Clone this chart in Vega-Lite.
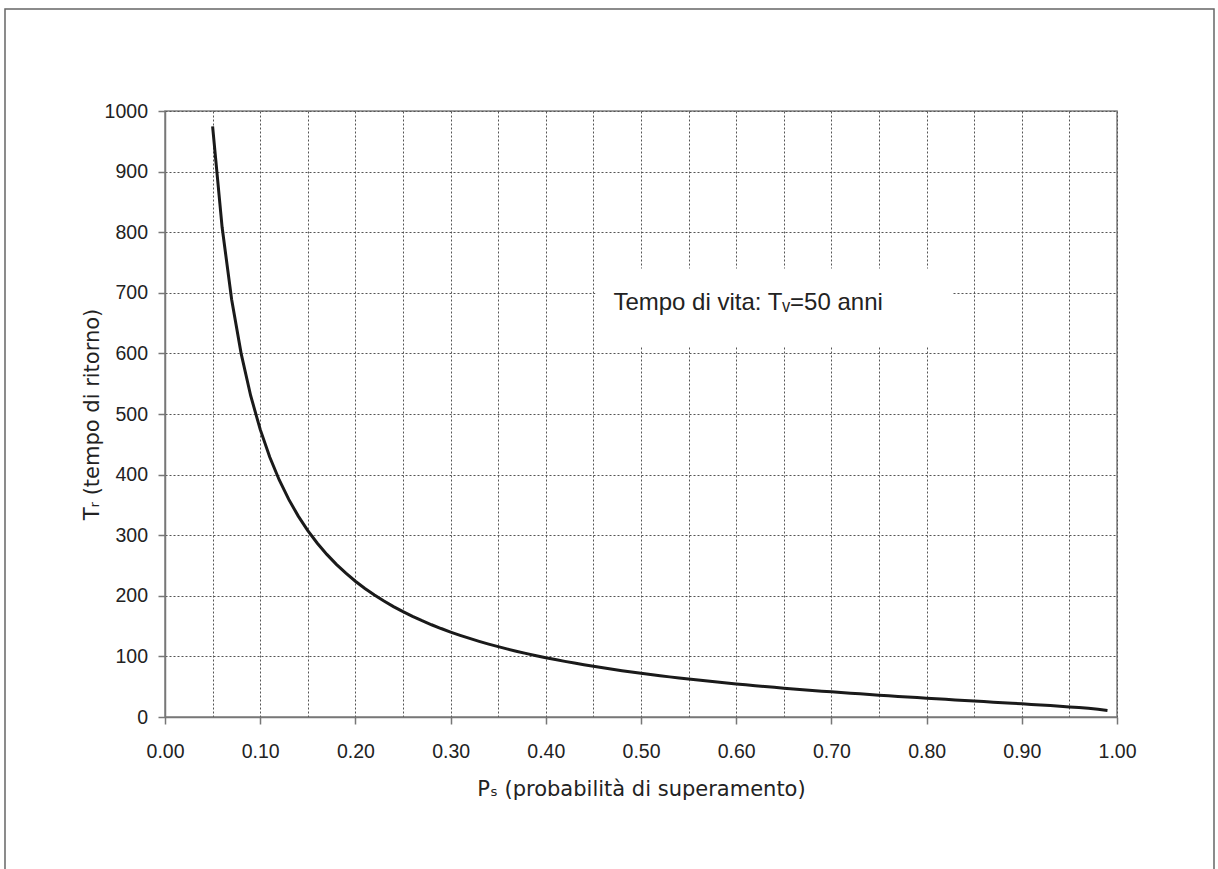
{
  "$schema": "https://vega.github.io/schema/vega-lite/v6.json",
  "width": 952,
  "height": 606,
  "autosize": "none",
  "padding": {"left": 165, "top": 111, "right": 101, "bottom": 152},
  "background": "white",
  "config": {
    "view": {"stroke": "#808080", "strokeWidth": 1.5},
    "axis": {
      "labelFont": "Liberation Sans",
      "labelFontSize": 19.5,
      "labelColor": "#222",
      "titleFont": "DejaVu Sans",
      "titleFontSize": 21,
      "titleFontWeight": "normal",
      "titleColor": "#222",
      "domainColor": "#777",
      "domainWidth": 1.5,
      "tickColor": "#777",
      "tickWidth": 1.5,
      "tickSize": 7,
      "grid": true,
      "gridColor": "#555",
      "gridDash": [2, 2],
      "gridWidth": 1,
      "labelOverlap": false,
      "labelFlush": false
    }
  },
  "datasets": {
    "curve": [
      {"Ps": 0.05, "Tr": 974.79}, {"Ps": 0.06, "Tr": 808.08}, {"Ps": 0.07, "Tr": 688.98},
      {"Ps": 0.08, "Tr": 599.65}, {"Ps": 0.09, "Tr": 530.16}, {"Ps": 0.10, "Tr": 474.56},
      {"Ps": 0.11, "Tr": 429.06}, {"Ps": 0.12, "Tr": 391.14}, {"Ps": 0.13, "Tr": 359.04},
      {"Ps": 0.14, "Tr": 331.52}, {"Ps": 0.15, "Tr": 307.65}, {"Ps": 0.16, "Tr": 286.78},
      {"Ps": 0.17, "Tr": 268.34}, {"Ps": 0.18, "Tr": 251.95}, {"Ps": 0.19, "Tr": 237.28},
      {"Ps": 0.20, "Tr": 224.07}, {"Ps": 0.21, "Tr": 212.12}, {"Ps": 0.22, "Tr": 201.24},
      {"Ps": 0.23, "Tr": 191.30}, {"Ps": 0.24, "Tr": 182.19}, {"Ps": 0.25, "Tr": 173.80},
      {"Ps": 0.26, "Tr": 166.05}, {"Ps": 0.27, "Tr": 158.88}, {"Ps": 0.28, "Tr": 152.20},
      {"Ps": 0.29, "Tr": 145.99}, {"Ps": 0.30, "Tr": 140.18}, {"Ps": 0.31, "Tr": 134.75},
      {"Ps": 0.32, "Tr": 129.65}, {"Ps": 0.33, "Tr": 124.85}, {"Ps": 0.34, "Tr": 120.33},
      {"Ps": 0.35, "Tr": 116.07}, {"Ps": 0.36, "Tr": 112.03}, {"Ps": 0.37, "Tr": 108.22},
      {"Ps": 0.38, "Tr": 104.59}, {"Ps": 0.39, "Tr": 101.15}, {"Ps": 0.40, "Tr": 97.88},
      {"Ps": 0.41, "Tr": 94.76}, {"Ps": 0.42, "Tr": 91.79}, {"Ps": 0.43, "Tr": 88.95},
      {"Ps": 0.44, "Tr": 86.24}, {"Ps": 0.45, "Tr": 83.64}, {"Ps": 0.46, "Tr": 81.14},
      {"Ps": 0.47, "Tr": 78.76}, {"Ps": 0.48, "Tr": 76.46}, {"Ps": 0.49, "Tr": 74.26},
      {"Ps": 0.50, "Tr": 72.13}, {"Ps": 0.51, "Tr": 70.09}, {"Ps": 0.52, "Tr": 68.12},
      {"Ps": 0.53, "Tr": 66.22}, {"Ps": 0.54, "Tr": 64.39}, {"Ps": 0.55, "Tr": 62.62},
      {"Ps": 0.56, "Tr": 60.90}, {"Ps": 0.57, "Tr": 59.24}, {"Ps": 0.58, "Tr": 57.64},
      {"Ps": 0.59, "Tr": 56.08}, {"Ps": 0.60, "Tr": 54.57}, {"Ps": 0.61, "Tr": 53.10},
      {"Ps": 0.62, "Tr": 51.68}, {"Ps": 0.63, "Tr": 50.29}, {"Ps": 0.64, "Tr": 48.94},
      {"Ps": 0.65, "Tr": 47.63}, {"Ps": 0.66, "Tr": 46.35}, {"Ps": 0.67, "Tr": 45.10},
      {"Ps": 0.68, "Tr": 43.88}, {"Ps": 0.69, "Tr": 42.69}, {"Ps": 0.70, "Tr": 41.53},
      {"Ps": 0.71, "Tr": 40.39}, {"Ps": 0.72, "Tr": 39.28}, {"Ps": 0.73, "Tr": 38.19},
      {"Ps": 0.74, "Tr": 37.12}, {"Ps": 0.75, "Tr": 36.07}, {"Ps": 0.76, "Tr": 35.04},
      {"Ps": 0.77, "Tr": 34.02}, {"Ps": 0.78, "Tr": 33.02}, {"Ps": 0.79, "Tr": 32.04},
      {"Ps": 0.80, "Tr": 31.07}, {"Ps": 0.81, "Tr": 30.11}, {"Ps": 0.82, "Tr": 29.16},
      {"Ps": 0.83, "Tr": 28.22}, {"Ps": 0.84, "Tr": 27.28}, {"Ps": 0.85, "Tr": 26.36},
      {"Ps": 0.86, "Tr": 25.43}, {"Ps": 0.87, "Tr": 24.51}, {"Ps": 0.88, "Tr": 23.58},
      {"Ps": 0.89, "Tr": 22.65}, {"Ps": 0.90, "Tr": 21.71}, {"Ps": 0.91, "Tr": 20.76},
      {"Ps": 0.92, "Tr": 19.80}, {"Ps": 0.93, "Tr": 18.80}, {"Ps": 0.94, "Tr": 17.77},
      {"Ps": 0.95, "Tr": 16.69}, {"Ps": 0.96, "Tr": 15.53}, {"Ps": 0.97, "Tr": 14.26},
      {"Ps": 0.98, "Tr": 12.78}, {"Ps": 0.99, "Tr": 10.86}
    ],
    "note": [
      {"label": "Tempo di vita: Tᵥ=50 anni"}
    ]
  },
  "layer": [
    {
      "data": {"name": "curve"},
      "mark": {"type": "line", "color": "#1a1a1a", "strokeWidth": 3},
      "encoding": {
        "x": {
          "field": "Ps",
          "type": "quantitative",
          "scale": {"domain": [0, 1], "nice": false},
          "axis": {
            "title": "Pₛ (probabilità di superamento)",
            "grid": true,
            "values": [0, 0.05, 0.1, 0.15, 0.2, 0.25, 0.3, 0.35, 0.4, 0.45, 0.5, 0.55, 0.6, 0.65, 0.7, 0.75, 0.8, 0.85, 0.9, 0.95, 1],
            "format": ".2f",
            "labelExpr": "round(datum.value * 100) % 10 == 0 ? datum.label : ''",
            "tickOpacity": {"condition": {"test": "round(datum.value * 100) % 10 != 0", "value": 0}, "value": 1},
            "labelPadding": 18,
            "titlePadding": 18
          }
        },
        "y": {
          "field": "Tr",
          "type": "quantitative",
          "scale": {"domain": [0, 1000], "nice": false},
          "axis": {
            "title": "Tᵣ (tempo di ritorno)",
            "grid": true,
            "values": [0, 100, 200, 300, 400, 500, 600, 700, 800, 900, 1000],
            "format": "d",
            "labelPadding": 10.5,
            "titlePadding": 2
          }
        }
      }
    },
    {
      "data": {"name": "note"},
      "mark": {"type": "rect", "fill": null, "filled": false, "stroke": "#666", "strokeWidth": 1.5, "clip": false},
      "encoding": {
        "x": {"datum": -0.16807, "type": "quantitative"},
        "x2": {"datum": 1.10189},
        "y": {"datum": 1168.3, "type": "quantitative"},
        "y2": {"datum": -270}
      }
    },
    {
      "data": {"name": "note"},
      "mark": {"type": "rect", "fill": "white", "stroke": null},
      "encoding": {
        "x": {"datum": 0.452, "type": "quantitative"},
        "x2": {"datum": 0.827},
        "y": {"datum": 740, "type": "quantitative"},
        "y2": {"datum": 611}
      }
    },
    {
      "data": {"name": "note"},
      "mark": {"type": "text", "align": "left", "baseline": "alphabetic", "font": "Liberation Sans", "fontSize": 24, "fill": "#222"},
      "encoding": {
        "x": {"datum": 0.471, "type": "quantitative"},
        "y": {"datum": 671, "type": "quantitative"},
        "text": {"field": "label"}
      }
    }
  ]
}
